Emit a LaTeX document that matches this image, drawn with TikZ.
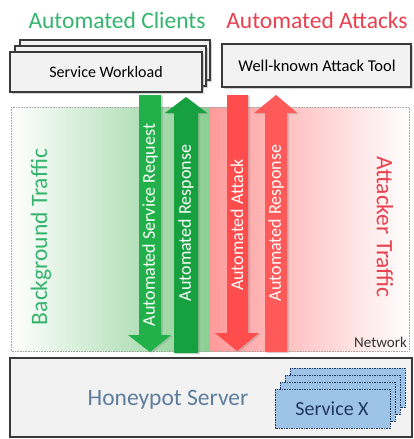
\documentclass[tikz,border=0pt]{standalone}
\usepackage{fontspec}
\setmainfont{Carlito}
\usetikzlibrary{shadows}
\definecolor{titlegreen}{HTML}{35B46E}
\definecolor{titlered}{HTML}{E8404E}
\definecolor{boxfill}{HTML}{F2F2F2}
\definecolor{boxline}{HTML}{3A3A3A}
\definecolor{arrowgreenA}{HTML}{22B04B}
\definecolor{arrowgreenB}{HTML}{16A040}
\definecolor{arrowredA}{HTML}{FF4C4C}
\definecolor{arrowredB}{HTML}{FF5A5A}
\definecolor{netgreen}{HTML}{8ACF92}
\definecolor{netred}{HTML}{FF9A9A}
\definecolor{honeytext}{HTML}{5E7D9C}
\definecolor{svcfill}{HTML}{9DC3E6}
\definecolor{svcline}{HTML}{1F3864}
\tikzset{
  toolbox/.style={draw=boxline, line width=1.4pt, fill=boxfill,
    drop shadow={shadow xshift=2pt, shadow yshift=-2pt, opacity=.35}},
  svcbox/.style={draw=svcline, line width=1pt, dash pattern=on 1.5pt off 1pt,
    fill=svcfill},
  flowarrow/.style={drop shadow={shadow xshift=2pt, shadow yshift=-1pt, opacity=.3}},
  flowlabel/.style={text=white, font=\fontsize{18}{20}\selectfont, rotate=90, inner sep=0pt},
  bigtitle/.style={font=\fontsize{23.5}{26}\selectfont},
}
\begin{document}
\begin{tikzpicture}[x=1pt, y=-1pt]
\useasboundingbox (0,0) rectangle (414,439);

% network area: two shaded halves with a dotted frame
\shade[left color=white, right color=netgreen] (11,107) rectangle (210,351);
\shade[left color=netred, right color=white] (210,107) rectangle (409,351);
\draw[gray!70, densely dotted, line width=0.6pt] (11,107) rectangle (409,351);

\node[bigtitle, text=titlegreen, rotate=90] (bgtraffic) at (41,237) {Background Traffic};
\node[bigtitle, text=titlered, rotate=-90] (attraffic) at (385,227) {Attacker Traffic};
\node[anchor=south east, text=black!80, font=\fontsize{15}{17}\selectfont, inner sep=1pt] (network) at (408,349) {Network};

% flow arrows
\fill[arrowgreenA, flowarrow] (139,95) -- (161,95) -- (161,335) -- (171,335) -- (150,352) -- (128,335) -- (139,335) -- cycle;
\fill[arrowgreenB, flowarrow] (174,353) -- (198,353) -- (198,113) -- (207,113) -- (186,97) -- (165,113) -- (174,113) -- cycle;
\fill[arrowredA, flowarrow] (227,95) -- (248,95) -- (248,333) -- (259,333) -- (237,351) -- (215,333) -- (227,333) -- cycle;
\fill[arrowredB, flowarrow] (265,352) -- (287,352) -- (287,113) -- (297,113) -- (276,95) -- (254,113) -- (265,113) -- cycle;

\node[flowlabel] (req) at (150,225) {Automated Service Request};
\node[flowlabel] (resp) at (186,223) {Automated Response};
\node[flowlabel] (att) at (237,225) {Automated Attack};
\node[flowlabel] (attresp) at (276,223) {Automated Response};

% titles
\node[bigtitle, text=titlegreen] (clients) at (117,20) {Automated Clients};
\node[bigtitle, text=titlered] (attacks) at (317,20) {Automated Attacks};

% stacked workload boxes
\draw[toolbox] (20,40) rectangle (210,80);
\draw[toolbox] (15,46) rectangle (206,86);
\draw[toolbox] (10,52) rectangle (202,92);
\node[font=\fontsize{16}{18}\selectfont] (workload) at (106,72) {Service Workload};

\draw[toolbox] (222,44) rectangle (411,87);
\node[font=\fontsize{16.5}{18}\selectfont] (tool) at (317,66) {Well-known Attack Tool};

% honeypot server with its stacked services
\draw[draw=boxline, line width=1.8pt, fill=boxfill] (10,358) rectangle (412,437);
\node[text=honeytext, font=\fontsize{23.5}{26}\selectfont] (honeypot) at (168,400) {Honeypot Server};

\draw[svcbox] (290,368) rectangle (405,407);
\draw[svcbox] (285,375) rectangle (400,414);
\draw[svcbox] (280,382) rectangle (395,421);
\draw[svcbox] (275,389) rectangle (390,428);
\node[text=svcline, font=\fontsize{20}{22}\selectfont] (svcx) at (332,409) {Service X};
\end{tikzpicture}
\end{document}
